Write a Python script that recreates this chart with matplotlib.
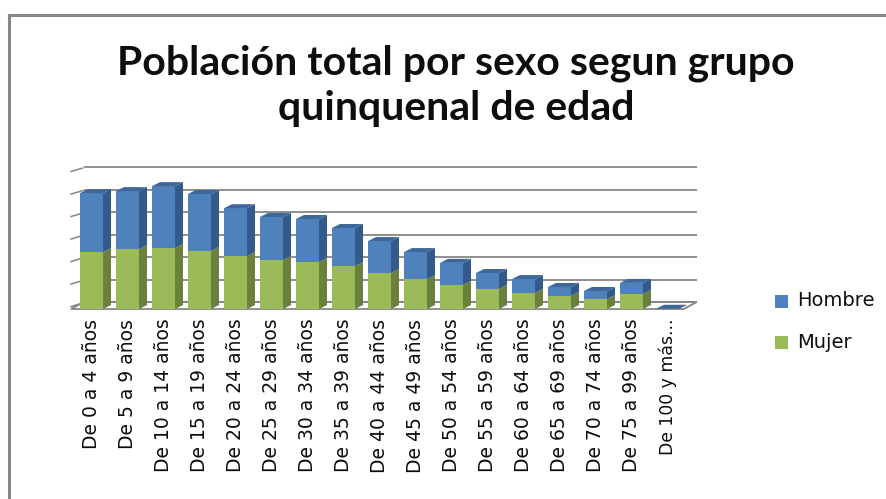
import matplotlib
matplotlib.use("Agg")
import matplotlib.pyplot as plt
from matplotlib.patches import Polygon, Rectangle
from matplotlib.lines import Line2D

categories = ["De 0 a 4 años", "De 5 a 9 años", "De 10 a 14 años", "De 15 a 19 años",
              "De 20 a 24 años", "De 25 a 29 años", "De 30 a 34 años", "De 35 a 39 años",
              "De 40 a 44 años", "De 45 a 49 años", "De 50 a 54 años", "De 55 a 59 años",
              "De 60 a 64 años", "De 65 a 69 años", "De 70 a 74 años", "De 75 a 99 años",
              "De 100 y más..."]
mujer = [25300, 26600, 27100, 25800, 23500, 21800, 20900, 19100, 16000, 13300,
         10700, 8900, 7100, 5800, 4400, 6700, 40]
hombre = [26200, 25800, 27500, 25300, 21300, 19100, 19100, 16900, 14200, 12000,
          9800, 7100, 6200, 4000, 3600, 4900, 60]
gridvals = [0, 10000, 20000, 30000, 40000, 50000, 60000]
title_lines = ["Población total por sexo segun grupo", "quinquenal de edad"]
series_names = ["Hombre", "Mujer"]

W, H = 887, 499
fig = plt.figure(figsize=(W / 100, H / 100), dpi=100)
fig.patch.set_facecolor("white")

def fx(x):
    return x / W

def fy(y):
    return 1 - y / H

# border
fig.add_artist(Line2D([fx(9.5), fx(887)], [fy(14.5), fy(14.5)], color="#868686", lw=2.2,
                      transform=fig.transFigure, solid_capstyle="projecting"))
fig.add_artist(Line2D([fx(9.5), fx(9.5)], [fy(14.5), fy(499)], color="#868686", lw=2.2,
                      transform=fig.transFigure, solid_capstyle="projecting"))

# title
fig.text(fx(456), fy(75), title_lines[0], ha="center", va="baseline",
         fontsize=29.5, fontweight="bold", family="Lato", color="#0d0d0d")
fig.text(fx(456), fy(120), title_lines[1], ha="center", va="baseline",
         fontsize=29.5, fontweight="bold", family="Lato", color="#0d0d0d")

# axes
x0, x1 = -0.57, 16.45
ymax = 60000
ax = fig.add_axes([fx(71), 190 / H, 612.7 / W, 135 / H])
ax.set_xlim(x0, x1)
ax.set_ylim(0, ymax)
for s in ax.spines.values():
    s.set_visible(False)
ax.set_yticks([])
ax.patch.set_visible(False)

px_x = 612.7 / (x1 - x0)      # pixels per x unit
px_y = 135 / ymax             # pixels per y unit
wdx = 13 / px_x
wdy = 7 / px_y
grid_c = "#868686"

# floor
floor = Polygon([(x0, 0), (x1, 0), (x1 + wdx, wdy), (x0 + wdx, wdy)], closed=True,
                facecolor="white", edgecolor=grid_c, lw=1.3, zorder=1, clip_on=False)
ax.add_patch(floor)
# back gridlines & left ticks
for v in gridvals:
    ax.plot([x0 + wdx, x1 + wdx], [v + wdy, v + wdy], color=grid_c, lw=1.3, zorder=1.5,
            clip_on=False, solid_capstyle="butt")
    ax.plot([x0, x0 + wdx * 0.9], [v + wdy * 0.35, v + wdy * 0.85], color=grid_c, lw=1.1,
            zorder=1.5, clip_on=False)

xs = list(range(len(categories)))
bw = 23 / px_x
bdx = 8 / px_x
bdy = 4 / px_y

green_f, green_s = "#9BBB59", "#6B803C"
blue_f, blue_s, blue_t = "#4F81BD", "#325A8A", "#3E679A"

ax.bar(xs, mujer, width=bw, color=green_f, zorder=3, clip_on=False)
ax.bar(xs, hombre, bottom=mujer, width=bw, color=blue_f, zorder=3, clip_on=False)

for i in xs:
    xr = i + bw / 2
    xl = i - bw / 2
    m = mujer[i]
    t = mujer[i] + hombre[i]
    ax.add_patch(Polygon([(xr, 0), (xr, m), (xr + bdx, m + bdy), (xr + bdx, bdy)],
                         closed=True, facecolor=green_s, edgecolor="none", zorder=3,
                         clip_on=False))
    ax.add_patch(Polygon([(xr, m), (xr, t), (xr + bdx, t + bdy), (xr + bdx, m + bdy)],
                         closed=True, facecolor=blue_s, edgecolor="none", zorder=3,
                         clip_on=False))
    ax.add_patch(Polygon([(xl, t), (xr, t), (xr + bdx, t + bdy), (xl + bdx, t + bdy)],
                         closed=True, facecolor=blue_t, edgecolor="none", zorder=3,
                         clip_on=False))

ax.set_xticks(xs)
ax.set_xticklabels(categories, rotation=90, fontsize=13.5, family="DejaVu Sans",
                   va="top", ha="center", color="#0d0d0d")
ax.get_xticklabels()[-1].set_fontsize(12.4)
ax.tick_params(axis="x", length=0, pad=7)

# legend
leg_items = [(series_names[0], blue_f, 301), (series_names[1], green_f, 342)]
for name, col, yc in leg_items:
    fig.add_artist(Rectangle((fx(775), fy(yc + 6.5)), 13 / W, 13 / H, facecolor=col,
                             edgecolor="none", transform=fig.transFigure))
    fig.text(fx(797), fy(yc), name, ha="left", va="center", fontsize=14,
             family="DejaVu Sans", color="#0d0d0d")

fig.savefig("out.png", dpi=100, facecolor="white")
